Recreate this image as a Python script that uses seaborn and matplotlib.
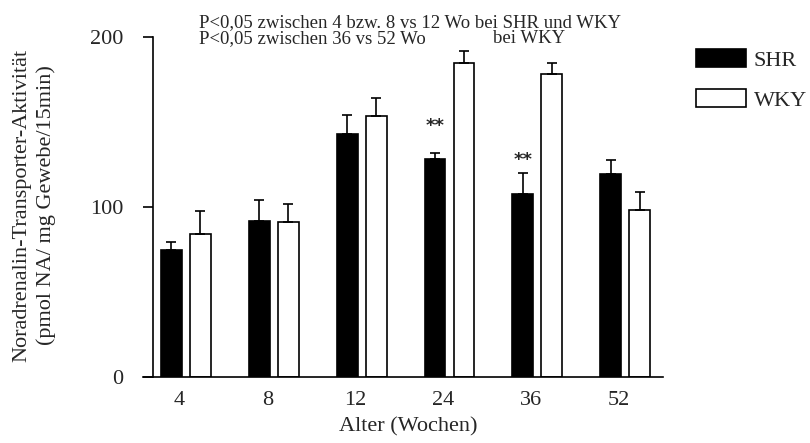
import matplotlib
matplotlib.use("Agg")
import matplotlib.pyplot as plt
import matplotlib.transforms as mtransforms
from matplotlib.patches import Patch
import seaborn as sns
import pandas as pd

# ---- data ----
ages = ["4", "8", "12", "24", "36", "52"]
groups = ["SHR", "WKY"]
shr_mean = [75, 92, 143, 128, 107.5, 119.5]
shr_err = [4.5, 12, 11, 3.5, 12.5, 8]
wky_mean = [84, 91, 153.5, 185, 178, 98]
wky_err = [13.5, 10.5, 10.5, 6.5, 7, 11]

df = pd.DataFrame({
    "Alter": ages * 2,
    "Gruppe": ["SHR"] * len(ages) + ["WKY"] * len(ages),
    "Wert": shr_mean + wky_mean,
})
errs = {"SHR": shr_err, "WKY": wky_err}

sns.set_style("ticks")
plt.rcParams["font.family"] = ["Liberation Serif", "DejaVu Serif"]
plt.rcParams["mathtext.default"] = "regular"

fig = plt.figure(figsize=(8.1, 4.43), dpi=100)
ax = fig.add_axes([153 / 810, 1 - 377 / 443, (663 - 153) / 810, (377 - 37) / 443])

sns.barplot(data=df, x="Alter", y="Wert", hue="Gruppe", order=ages, hue_order=groups,
            palette={"SHR": "black", "WKY": "white"}, edgecolor="black", linewidth=1.2,
            width=0.66, gap=0.28, errorbar=None, legend=False, ax=ax)

for g, cont in zip(groups, ax.containers):
    for bar, e in zip(cont, errs[g]):
        xc = bar.get_x() + bar.get_width() / 2
        h = bar.get_height()
        ax.errorbar([xc], [h], yerr=[[0], [e]], fmt="none", ecolor="black",
                    elinewidth=1.2, capsize=3.5, capthick=1.2, zorder=1)

# significance stars above SHR bars at 24 and 36 weeks
shr_bars = ax.containers[0]
for idx, ys in [(3, 145), (4, 124.5)]:
    b = shr_bars[idx]
    ax.text(b.get_x() + b.get_width() / 2, ys, "**", ha="center", va="baseline",
            fontsize=13, family="DejaVu Sans", fontweight="bold")

ax.set_ylim(0, 200)
ax.set_xlim(-0.375, 5.43)
ax.set_yticks([0, 100, 200])
ax.tick_params(axis="y", direction="out", length=7.2, width=1.2, pad=14, labelsize=16, color="black")
ax.tick_params(axis="x", length=0, pad=10, labelsize=16)
for lab in ax.get_xticklabels():
    lab.set_transform(lab.get_transform() + mtransforms.ScaledTranslation(-6.5 / 100, 0, fig.dpi_scale_trans))
for s in ["top", "right"]:
    ax.spines[s].set_visible(False)
for s in ["left", "bottom"]:
    ax.spines[s].set_linewidth(1.2)
    ax.spines[s].set_color("black")
ax.spines["bottom"].set_bounds(-0.375 - 10 / 88, 5.43)
ax.spines["bottom"].set_clip_on(False)

ax.set_xlabel("Alter (Wochen)", fontsize=16, labelpad=5)
ax.set_ylabel("")
fig.text(22 / 810, 1 - 205 / 443, "Noradrenalin-Transporter-Aktivität", rotation=90,
         ha="center", va="center", fontsize=16)
fig.text(46 / 810, 1 - 205 / 443, "(pmol NA/ mg Gewebe/15min)", rotation=90,
         ha="center", va="center", fontsize=16)

fig.text(199 / 810, 1 - 27 / 443, "P<0,05 zwischen 4 bzw. 8 vs 12 Wo bei SHR und WKY",
         ha="left", va="baseline", fontsize=13.5)
fig.text(199 / 810, 1 - 43 / 443, "P<0,05 zwischen 36 vs 52 Wo",
         ha="left", va="baseline", fontsize=13.5)
fig.text(493 / 810, 1 - 43 / 443, "bei WKY", ha="left", va="baseline", fontsize=13.5)

handles = [Patch(facecolor="black", edgecolor="black", linewidth=1.2),
           Patch(facecolor="white", edgecolor="black", linewidth=1.2)]
fig.legend(handles, groups, loc="upper left", bbox_to_anchor=(696 / 810, 1 - 49 / 443),
           frameon=False, fontsize=16, handlelength=2.25, handleheight=0.85,
           handletextpad=0.35, labelspacing=0.85, borderpad=0, borderaxespad=0)

fig.savefig("out.png", dpi=100)
